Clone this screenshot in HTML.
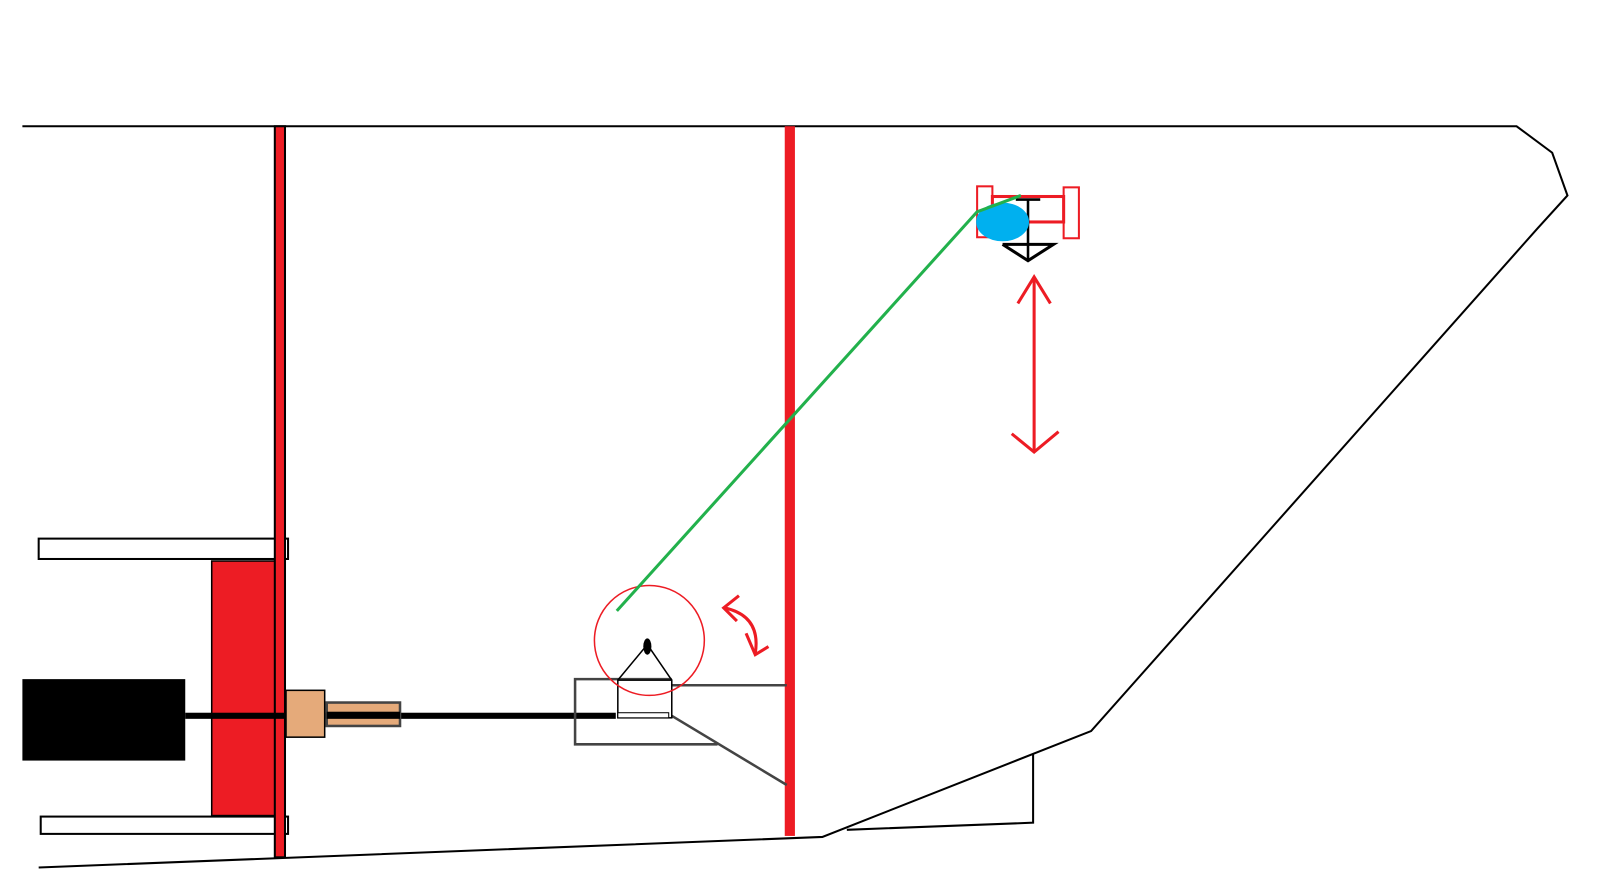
<!DOCTYPE html>
<html><head><meta charset="utf-8"><style>html,body{margin:0;padding:0;background:#fff;overflow:hidden}svg{display:block}</style></head>
<body>
<svg width="1598" height="896" viewBox="0 0 1570 880" preserveAspectRatio="none" xmlns="http://www.w3.org/2000/svg">
<rect width="1570" height="880" fill="#fff"/>
<!-- hull outline -->
<polyline points="22,124 1490,124 1525,150 1540,192 1510,225 1072,718 808,822 38,852" fill="none" stroke="#000" stroke-width="2"/>
<polyline points="1015,740 1015,808 832,815" fill="none" stroke="#000" stroke-width="2"/>
<!-- bars -->
<rect x="38" y="529" width="245" height="20" fill="#fff" stroke="#000" stroke-width="2"/>
<rect x="40" y="802" width="243" height="17" fill="#fff" stroke="#000" stroke-width="2"/>
<rect x="208" y="551" width="62" height="250" fill="#ed1c24" stroke="#000" stroke-width="1.5"/>
<rect x="270" y="124" width="10" height="718" fill="#ed1c24" stroke="#000" stroke-width="2"/>
<rect x="771" y="124" width="10" height="697" fill="#ed1c24"/>
<!-- motor and shaft -->
<rect x="22" y="667" width="160" height="80" fill="#000"/>
<rect x="182" y="700" width="423" height="6" fill="#000"/>
<rect x="281" y="678" width="38" height="46" fill="#e5aa7a" stroke="#000" stroke-width="1.5"/>
<rect x="321" y="690" width="72" height="23" fill="#e5aa7a" stroke="#444" stroke-width="2.5"/>
<rect x="321" y="699" width="72" height="7" fill="#000"/>
<!-- bracket -->
<polyline points="660,667 565,667 565,731 705,731" fill="none" stroke="#444" stroke-width="2.5"/>
<line x1="660" y1="673" x2="773" y2="673" stroke="#444" stroke-width="2.5"/>
<line x1="660" y1="703" x2="773" y2="771" stroke="#444" stroke-width="2.5"/>
<rect x="607" y="668" width="53" height="37" fill="none" stroke="#000" stroke-width="1.5"/>
<rect x="607" y="700" width="50" height="5" fill="#fff" stroke="#000" stroke-width="1"/>
<polyline points="607,668 636,633 660,668" fill="none" stroke="#000" stroke-width="1.5"/>
<ellipse cx="636" cy="635" rx="4" ry="8" fill="#000"/>
<circle cx="638" cy="629" r="54" fill="none" stroke="#ed1c24" stroke-width="1.5"/>
<!-- curved arrow -->
<path d="M712,597 Q748,605 742,642" fill="none" stroke="#ed1c24" stroke-width="3"/>
<polyline points="726,585 711,597 724,610" fill="none" stroke="#ed1c24" stroke-width="3"/>
<polyline points="733,622 742,643 755,635" fill="none" stroke="#ed1c24" stroke-width="3"/>
<!-- top mechanism -->
<rect x="960" y="183" width="15" height="50" fill="none" stroke="#ed1c24" stroke-width="2"/>
<rect x="1045" y="184" width="15" height="50" fill="none" stroke="#ed1c24" stroke-width="2"/>
<rect x="975" y="193" width="70" height="25" fill="none" stroke="#ed1c24" stroke-width="3"/>
<line x1="998" y1="196" x2="1022" y2="196" stroke="#000" stroke-width="2.5"/>
<line x1="1010" y1="196" x2="1010" y2="256" stroke="#000" stroke-width="2.5"/>
<polyline points="985,240 1035,240 1010,256 985,240" fill="none" stroke="#000" stroke-width="3"/>
<ellipse cx="985" cy="218" rx="26" ry="19" fill="#00b0ef"/>
<polyline points="606,600 960,208 1003,192" fill="none" stroke="#22b14c" stroke-width="3"/>
<!-- vertical double arrow -->
<line x1="1016" y1="272" x2="1016" y2="444" stroke="#ed1c24" stroke-width="3"/>
<polyline points="1000,298 1016,272 1032,298" fill="none" stroke="#ed1c24" stroke-width="3"/>
<polyline points="994,426 1016,444 1040,424" fill="none" stroke="#ed1c24" stroke-width="3"/>
</svg>
</body></html>
